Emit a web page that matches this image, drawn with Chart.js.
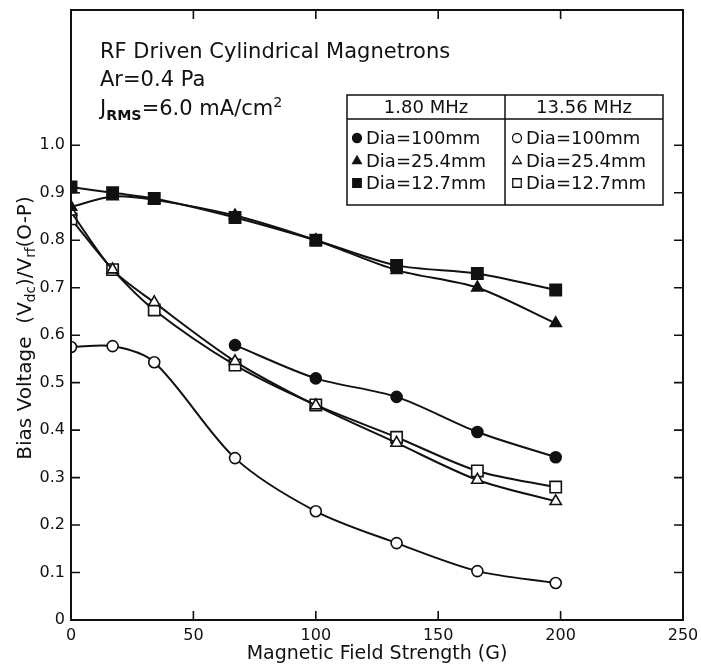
<!DOCTYPE html>
<html>
<head>
<meta charset="utf-8">
<script src="https://cdn.jsdelivr.net/npm/chart.js@4"></script>
<style>
  html, body { margin: 0; padding: 0; background: #fff; }
  #wrap { width: 701px; height: 669px; }
</style>
</head>
<body>
<div id="wrap"><canvas id="biasChart" width="701" height="669"></canvas></div>
<script>
// magnetic field (G) where bias was measured
const fieldG = [0, 17, 34, 67, 100, 133, 166, 198];

// 1.80 MHz
const low100 = [null, null, null, 0.579, 0.509, 0.470, 0.396, 0.343];
const low254 = [0.870, 0.892, 0.885, 0.852, 0.800, 0.737, 0.700, 0.625];
const low127 = [0.912, 0.900, 0.888, 0.848, 0.800, 0.747, 0.730, 0.695];

// 13.56 MHz
const high100 = [0.575, 0.577, 0.543, 0.341, 0.229, 0.162, 0.103, 0.078];
const high254 = [0.860, 0.738, 0.669, 0.545, 0.452, 0.373, 0.295, 0.250];
const high127 = [0.845, 0.738, 0.653, 0.537, 0.453, 0.385, 0.314, 0.280];

const xTicks = [0, 50, 100, 150, 200, 250];
const yTicks = [0, 0.1, 0.2, 0.3, 0.4, 0.5, 0.6, 0.7, 0.8, 0.9, 1.0];

const FONT = "'DejaVu Sans', sans-serif";

function pts(vals) {
  return fieldG.map((x, i) => ({ x: x, y: vals[i] })).filter(p => p.y !== null);
}

function series(label, vals, style, filled) {
  const size = style === 'rect' ? 8 : (style === 'triangle' ? 6.5 : 5.5);
  return {
    label: label,
    data: pts(vals),
    borderColor: '#111',
    borderWidth: 2,
    pointStyle: style,
    pointRadius: size,
    pointBorderWidth: 1.6,
    pointBackgroundColor: filled ? '#111' : '#fff',
    pointBorderColor: '#111',
    tension: 0.3,
    fill: false
  };
}

// frame with inward ticks on all four sides
const frame = {
  id: 'frame',
  afterDatasetsDraw(chart) {
    const { ctx, chartArea: a, scales } = chart;
    ctx.save();
    ctx.strokeStyle = '#111';
    ctx.lineWidth = 2;
    ctx.strokeRect(a.left, a.top, a.right - a.left, a.bottom - a.top);
    ctx.lineWidth = 1.6;
    const tl = 9;
    xTicks.forEach(v => {
      const px = scales.x.getPixelForValue(v);
      ctx.beginPath();
      ctx.moveTo(px, a.bottom); ctx.lineTo(px, a.bottom - tl);
      ctx.moveTo(px, a.top); ctx.lineTo(px, a.top + tl);
      ctx.stroke();
    });
    yTicks.forEach(v => {
      const py = scales.y.getPixelForValue(v);
      ctx.beginPath();
      ctx.moveTo(a.left, py); ctx.lineTo(a.left + tl, py);
      ctx.moveTo(a.right, py); ctx.lineTo(a.right - tl, py);
      ctx.stroke();
    });
    ctx.restore();
  }
};

// draws text with sub / sup segments
function richText(ctx, parts, x, y, size) {
  let cx = x;
  parts.forEach(p => {
    let s = size, dy = 0;
    if (p.sub) { s = size * 0.68; dy = size * 0.22; }
    if (p.sup) { s = size * 0.68; dy = -size * 0.38; }
    ctx.font = (p.bold ? 'bold ' : '') + s + 'px ' + FONT;
    ctx.fillText(p.t, cx, y + dy);
    cx += ctx.measureText(p.t).width;
  });
  return cx - x;
}

function richWidth(ctx, parts, size) {
  let w = 0;
  parts.forEach(p => {
    const s = (p.sub || p.sup) ? size * 0.68 : size;
    ctx.font = (p.bold ? 'bold ' : '') + s + 'px ' + FONT;
    w += ctx.measureText(p.t).width;
  });
  return w;
}

const notes = {
  id: 'notes',
  afterDraw(chart) {
    const ctx = chart.ctx;
    ctx.save();
    ctx.fillStyle = '#111';
    ctx.textBaseline = 'alphabetic';
    ctx.textAlign = 'left';

    // header text
    ctx.font = '21px ' + FONT;
    ctx.fillText('RF Driven Cylindrical Magnetrons', 100, 58);
    ctx.fillText('Ar=0.4 Pa', 100, 86);
    richText(ctx, [{ t: 'J' }, { t: 'RMS', sub: true, bold: true }, { t: '=6.0 mA/cm' }, { t: '2', sup: true }], 100, 115, 21);

    // y axis title (rotated)
    const yParts = [{ t: 'Bias Voltage  (V' }, { t: 'dc', sub: true }, { t: ')/V' }, { t: 'rf', sub: true }, { t: '(O-P)' }];
    const ysz = 20;
    const w = richWidth(ctx, yParts, ysz);
    ctx.translate(31, 328);
    ctx.rotate(-Math.PI / 2);
    richText(ctx, yParts, -w / 2, 0, ysz);
    ctx.setTransform(1, 0, 0, 1, 0, 0);

    // legend table
    const L = 347, R = 663, T = 95, H = 119, B = 205, M = 505;
    ctx.strokeStyle = '#111';
    ctx.lineWidth = 1.5;
    ctx.fillStyle = '#fff';
    ctx.fillRect(L, T, R - L, B - T);
    ctx.strokeRect(L, T, R - L, B - T);
    ctx.beginPath();
    ctx.moveTo(L, H); ctx.lineTo(R, H);
    ctx.moveTo(M, T); ctx.lineTo(M, B);
    ctx.stroke();
    ctx.fillStyle = '#111';
    ctx.font = '18px ' + FONT;
    ctx.textAlign = 'center';
    ctx.fillText('1.80 MHz', (L + M) / 2, 113);
    ctx.fillText('13.56 MHz', (M + R) / 2, 113);
    ctx.textAlign = 'left';
    const rows = [
      { y: 144, style: 'circle', text: 'Dia=100mm', r: 4.5 },
      { y: 167, style: 'triangle', text: 'Dia=25.4mm', r: 5 },
      { y: 189, style: 'rect', text: 'Dia=12.7mm', r: 6 }
    ];
    rows.forEach(row => {
      [{ x: 357, fill: true }, { x: 517, fill: false }].forEach(col => {
        ctx.fillStyle = col.fill ? '#111' : '#fff';
        ctx.strokeStyle = '#111';
        ctx.lineWidth = 1.3;
        Chart.helpers.drawPoint(ctx, { pointStyle: row.style, radius: row.r, borderWidth: 1.3, rotation: 0 }, col.x, row.y - 6);
        ctx.fillStyle = '#111';
        ctx.font = '18px ' + FONT;
        ctx.fillText(row.text, col.x + 9, row.y);
      });
    });
    ctx.restore();
  }
};

new Chart(document.getElementById('biasChart').getContext('2d'), {
  type: 'line',
  data: {
    datasets: [
      series('1.80 MHz Dia=100mm', low100, 'circle', true),
      series('1.80 MHz Dia=25.4mm', low254, 'triangle', true),
      series('1.80 MHz Dia=12.7mm', low127, 'rect', true),
      series('13.56 MHz Dia=100mm', high100, 'circle', false),
      series('13.56 MHz Dia=25.4mm', high254, 'triangle', false),
      series('13.56 MHz Dia=12.7mm', high127, 'rect', false)
    ]
  },
  options: {
    responsive: false,
    animation: false,
    layout: { padding: { top: 10, right: 18, left: 0, bottom: 0 } },
    plugins: {
      legend: { display: false },
      tooltip: { enabled: false }
    },
    scales: {
      x: {
        type: 'linear',
        min: 0,
        max: 250,
        afterBuildTicks: s => { s.ticks = xTicks.map(v => ({ value: v })); },
        afterFit: s => { s.height = 49; s.paddingLeft = 0; s.paddingRight = 0; },
        grid: { display: false, drawTicks: false },
        border: { display: false },
        ticks: { color: '#111', padding: 6, font: { family: FONT, size: 16 } },
        title: {
          display: true,
          text: 'Magnetic Field Strength (G)',
          color: '#111',
          font: { family: FONT, size: 19 },
          padding: { top: 0, bottom: 4 }
        }
      },
      y: {
        type: 'linear',
        min: 0,
        max: 1.285,
        afterBuildTicks: s => { s.ticks = yTicks.map(v => ({ value: v })); },
        afterFit: s => { s.width = 71; s.paddingTop = 0; s.paddingBottom = 0; },
        grid: { display: false, drawTicks: false },
        border: { display: false },
        ticks: {
          color: '#111',
          padding: 6,
          font: { family: FONT, size: 16 },
          callback: v => (v === 0 ? '0' : v.toFixed(1))
        }
      }
    }
  },
  plugins: [frame, notes]
});
</script>
</body>
</html>
